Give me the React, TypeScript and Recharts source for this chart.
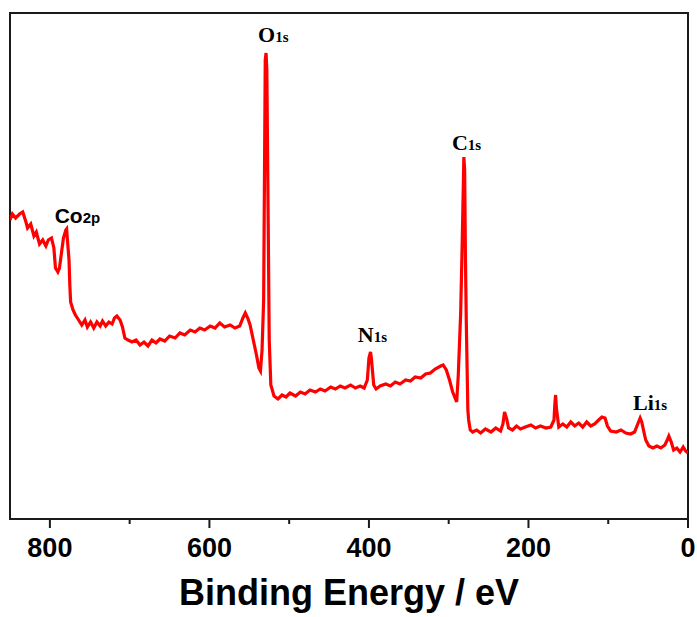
import { Label, Line, LineChart, ReferenceArea, ReferenceDot, XAxis, YAxis } from 'recharts'

// XPS survey, binding energy (eV)
const bindingEnergy = [
  850, 847, 843, 838, 834, 830, 828, 824, 820, 817, 813, 809, 805, 802, 798, 795, 793, 790, 788, 785,
  783, 780, 779, 778, 776, 775, 774, 771, 768, 764, 760, 756, 753, 749, 745, 741, 737, 734, 730, 726,
  722, 719, 716, 712, 709, 706, 702, 697, 692, 687, 682, 677, 672, 667, 662, 656, 650, 643, 637, 631,
  624, 618, 612, 606, 599, 593, 587, 581, 574, 568, 562, 558, 555, 552, 549, 545, 541, 538, 536, 534,
  532, 531, 530, 529, 528, 526, 525, 523, 519, 514, 509, 504, 499, 492, 486, 480, 474, 467, 461, 455,
  448, 442, 436, 430, 423, 417, 411, 406, 402, 400, 398, 397, 394, 391, 386, 379, 373, 367, 361, 354,
  348, 342, 335, 329, 323, 317, 310, 307, 303, 299, 295, 290, 288, 285, 283, 281, 280, 279, 278, 276,
  275, 273, 270, 265, 260, 254, 247, 241, 235, 232, 230, 227, 225, 220, 215, 210, 204, 197, 191, 185,
  178, 172, 168, 167, 166, 165, 162, 157, 152, 147, 142, 137, 132, 127, 122, 117, 112, 108, 104, 101,
  97, 90, 84, 78, 72, 67, 63, 60, 58, 55, 53, 49, 44, 39, 34, 29, 26, 24, 21, 18,
  14, 10, 6, 3, 0,
]

// counts (arbitrary units)
const intensity = [
  299, 305, 301, 305, 307, 297, 291, 295, 283, 287, 275, 279, 273, 279, 281, 271, 251, 247, 251, 269,
  281, 289, 290, 279, 259, 234, 217, 209, 204, 199, 194, 199, 192, 197, 191, 197, 193, 198, 193, 197,
  195, 201, 203, 199, 192, 181, 179, 177, 179, 174, 177, 173, 179, 176, 180, 178, 183, 181, 186, 184,
  189, 187, 191, 189, 193, 191, 196, 192, 194, 191, 193, 201, 206, 201, 194, 179, 164, 151, 148, 169,
  219, 339, 459, 466, 449, 269, 179, 134, 123, 120, 124, 122, 126, 123, 127, 125, 129, 127, 130, 128,
  132, 130, 133, 131, 134, 131, 133, 131, 139, 161, 167, 161, 134, 130, 133, 135, 133, 137, 135, 139,
  138, 142, 141, 145, 146, 150, 153, 154, 149, 139, 127, 117, 144, 206, 279, 362, 349, 259, 199, 109,
  99, 89, 87, 89, 86, 90, 87, 91, 88, 95, 107, 99, 91, 89, 93, 90, 92, 94, 91, 93,
  91, 92, 99, 114, 124, 111, 92, 95, 92, 97, 93, 96, 92, 97, 93, 95, 99, 102, 101, 93,
  88, 87, 89, 86, 85, 87, 95, 101, 97, 86, 79, 73, 71, 73, 71, 74, 79, 83, 77, 69,
  71, 67, 72, 68, 66,
]

const majorTicks = [800, 600, 400, 200, 0]
const allTicks = [800, 700, 600, 500, 400, 300, 200, 100, 0]

// peak labels: element, subscript, text anchor (eV, counts)
const peakNames = ['O', 'C', 'N', 'Li', 'Co']
const peakSubs = ['1s', '1s', '1s', '1s', '2p']
const peakLabelEnergy = [539, 296, 414, 69, 794]
const peakLabelCounts = [477, 369, 177, 109, 296]

const spectrum = bindingEnergy.map((e, i) => ({ energy: e, counts: intensity[i] }))

const frame = '#1a1a1a'

function EnergyTick(props: any) {
  const { x, y, payload } = props
  const major = majorTicks.includes(payload.value)
  return (
    <g>
      <line x1={x} x2={x} y1={y} y2={y + (major ? 9 : 5)} stroke={frame} strokeWidth={2} />
      {major && (
        <text
          x={x}
          y={y + 38}
          textAnchor="middle"
          fontFamily="'Liberation Sans', Arial, sans-serif"
          fontWeight="bold"
          fontSize={27}
          fill="#000"
        >
          {payload.value}
        </text>
      )}
    </g>
  )
}

function PeakLabel({ viewBox, name, sub }: any) {
  const sans = name === 'Co'
  return (
    <text
      x={viewBox.x}
      y={viewBox.y}
      textAnchor="start"
      fontFamily={sans ? "'Liberation Sans', Arial, sans-serif" : "'Liberation Serif', 'Times New Roman', serif"}
      fontWeight="bold"
      fill="#000"
    >
      <tspan fontSize={sans ? 21 : 22}>{name}</tspan>
      <tspan fontSize={15}>{sub}</tspan>
    </text>
  )
}

export default function App() {
  return (
    <div style={{ position: 'absolute', left: 0, top: 0, width: 697, height: 617, background: '#fff' }}>
      <LineChart width={697} height={617} data={spectrum} margin={{ top: 13, right: 9, left: 10, bottom: 0 }}>
        <XAxis
          dataKey="energy"
          type="number"
          domain={[0, 850]}
          reversed
          ticks={allTicks}
          interval={0}
          tick={<EnergyTick />}
          tickLine={false}
          tickSize={0}
          tickMargin={0}
          height={98}
          axisLine={{ stroke: frame, strokeWidth: 2 }}
          allowDataOverflow
        >
          <Label
            value="Binding Energy / eV"
            position="insideBottom"
            offset={12}
            fontFamily="'Liberation Sans', Arial, sans-serif"
            fontWeight="bold"
            fontSize={36}
            fill="#000"
          />
        </XAxis>
        <YAxis type="number" domain={[0, 506]} tick={false} tickLine={false} width={0} axisLine={false} allowDataOverflow />
        <ReferenceArea x1={0} x2={850} y1={0} y2={506} fill="none" stroke={frame} strokeWidth={2} />
        <Line
          type="linear"
          dataKey="counts"
          stroke="#ff0000"
          strokeWidth={3.2}
          dot={false}
          isAnimationActive={false}
        />
        {peakNames.map((n, i) => (
          <ReferenceDot
            key={n}
            x={peakLabelEnergy[i]}
            y={peakLabelCounts[i]}
            r={0}
            fill="none"
            stroke="none"
            label={<PeakLabel name={n} sub={peakSubs[i]} />}
          />
        ))}
      </LineChart>
    </div>
  )
}
